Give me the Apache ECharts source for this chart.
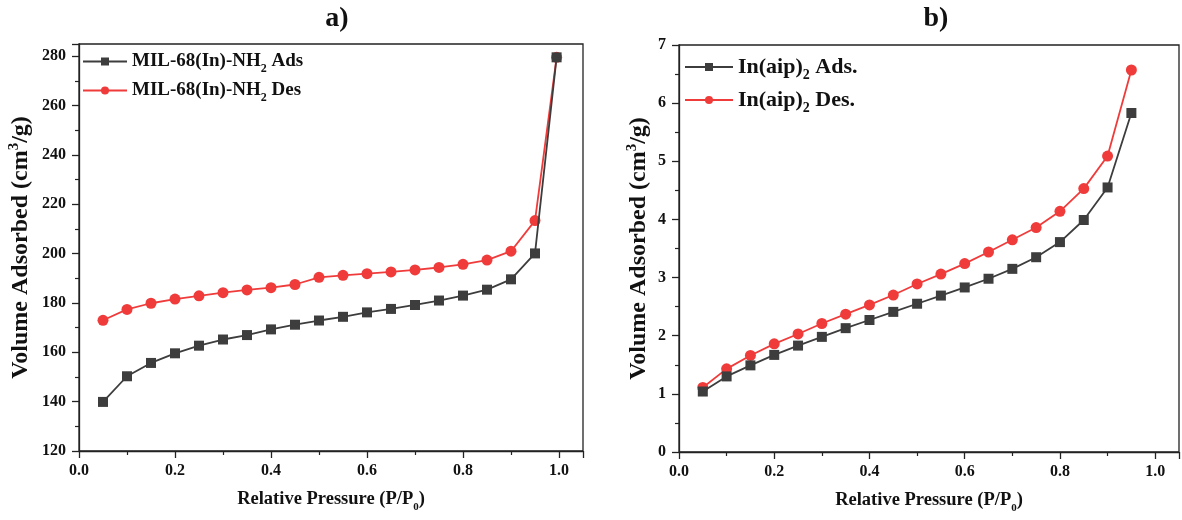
<!DOCTYPE html>
<html>
<head>
<meta charset="utf-8">
<script src="https://cdn.jsdelivr.net/npm/echarts@6/dist/echarts.min.js"></script>
<style>
  html, body { margin: 0; padding: 0; background: #fff; }
  #chart { width: 1182px; height: 520px; }
</style>
</head>
<body>
<div id="chart"></div>
<script>
// 图 a) MIL-68(In)-NH2
const pressureA = [0.05, 0.10, 0.15, 0.20, 0.25, 0.30, 0.35, 0.40, 0.45, 0.50,
                   0.55, 0.60, 0.65, 0.70, 0.75, 0.80, 0.85, 0.90, 0.95, 0.995];
const adsA = [139.9, 150.3, 155.7, 159.6, 162.7, 165.2, 167.0, 169.3, 171.2, 172.9,
              174.4, 176.2, 177.6, 179.2, 181.0, 183.0, 185.4, 189.6, 200.1, 279.6];
const desA = [173.0, 177.4, 179.9, 181.6, 182.9, 184.2, 185.3, 186.2, 187.5, 190.4,
              191.2, 191.9, 192.6, 193.4, 194.4, 195.7, 197.4, 201.0, 213.4, 279.6];

// 图 b) In(aip)2
const pressureB = [0.05, 0.10, 0.15, 0.20, 0.25, 0.30, 0.35, 0.40, 0.45, 0.50,
                   0.55, 0.60, 0.65, 0.70, 0.75, 0.80, 0.85, 0.90, 0.95];
const adsB = [1.04, 1.30, 1.49, 1.67, 1.83, 1.98, 2.13, 2.27, 2.41, 2.55,
              2.69, 2.83, 2.98, 3.15, 3.35, 3.61, 3.99, 4.55, 5.83];
const desB = [1.11, 1.43, 1.66, 1.86, 2.03, 2.21, 2.37, 2.53, 2.70, 2.89,
              3.06, 3.24, 3.44, 3.65, 3.86, 4.14, 4.53, 5.09, 6.57];

const xTicks = [0.0, 0.2, 0.4, 0.6, 0.8, 1.0];

const FONT = '"Liberation Serif", "DejaVu Serif", serif';
const GRAY = '#3d3d3d';
const RED = '#f03b3b';

const zip = (xs, ys) => xs.map((x, i) => [x, ys[i]]);

// 上下标用的 rich 样式
function richStyle(size) {
    const small = Math.round(size * 0.62);
    return {
        n: { fontFamily: FONT, fontWeight: 'bold', fontSize: size, color: '#111', lineHeight: size + 4, verticalAlign: 'middle' },
        sub: { fontFamily: FONT, fontWeight: 'bold', fontSize: small, color: '#111', lineHeight: small, verticalAlign: 'bottom', padding: [0, 0, -2, 0] },
        sup: { fontFamily: FONT, fontWeight: 'bold', fontSize: small, color: '#111', lineHeight: small, verticalAlign: 'top' }
    };
}

function xAxis(grid) {
    return {
        type: 'value', gridIndex: grid, min: 0, max: 1.05, interval: 0.2,
        name: '{n|Relative Pressure (P/P}{sub|0}{n|)}',
        nameLocation: 'middle', nameGap: 37,
        nameTextStyle: { rich: richStyle(18.5) },
        axisLine: { lineStyle: { color: '#222', width: 1.3 } },
        axisTick: { inside: false, length: 7, lineStyle: { color: '#222', width: 1.3 } },
        minorTick: { show: true, splitNumber: 2, length: 4, lineStyle: { color: '#222', width: 1.2 } },
        splitLine: { show: false },
        axisLabel: {
            margin: 12, fontFamily: FONT, fontWeight: 'bold', fontSize: 16, color: '#111',
            formatter: v => xTicks.some(t => Math.abs(t - v) < 1e-6) ? v.toFixed(1) : ''
        }
    };
}

function yAxis(grid, min, max, interval, gap) {
    return {
        type: 'value', gridIndex: grid, min: min, max: max, interval: interval,
        name: '{n|Volume Adsorbed (cm}{sup|3}{n|/g)}',
        nameLocation: 'middle', nameGap: gap,
        nameTextStyle: { rich: richStyle(24) },
        axisLine: { show: true, lineStyle: { color: '#222', width: 1.3 } },
        axisTick: { show: true, inside: false, length: 7, lineStyle: { color: '#222', width: 1.3 } },
        minorTick: { show: true, splitNumber: 2, length: 4, lineStyle: { color: '#222', width: 1.2 } },
        splitLine: { show: false },
        axisLabel: {
            margin: 13, fontFamily: FONT, fontWeight: 'bold', fontSize: 16, color: '#111',
            formatter: v => (v > max - 1e-6 && max % interval !== 0) ? '' : String(v)
        }
    };
}

function series(name, data, xi, isAds) {
    return {
        name: name, type: 'line', xAxisIndex: xi, yAxisIndex: xi, data: data,
        symbol: isAds ? 'rect' : 'circle', symbolSize: isAds ? 10 : 11,
        lineStyle: { color: isAds ? GRAY : RED, width: 1.8 },
        itemStyle: { color: isAds ? GRAY : RED },
        z: isAds ? 3 : 2, animation: false
    };
}

const chart = echarts.init(document.getElementById('chart'));
chart.setOption({
    backgroundColor: '#fff',
    animation: false,
    title: [
        { text: 'a)', left: 332, top: 0, textAlign: 'center', textStyle: { fontFamily: FONT, fontWeight: 'bold', fontSize: 28, color: '#111' } },
        { text: 'b)', left: 931, top: 0, textAlign: 'center', textStyle: { fontFamily: FONT, fontWeight: 'bold', fontSize: 28, color: '#111' } }
    ],
    legend: [
        {
            data: ['MIL-68(In)-NH2 Ads', 'MIL-68(In)-NH2 Des'], orient: 'vertical',
            left: 77, top: 47, itemWidth: 44, itemHeight: 10, itemGap: 6,
            formatter: n => '{n|' + n.replace('NH2', 'NH}{sub|2}{n|') + '}',
            textStyle: { rich: richStyle(19) }
        },
        {
            data: ['In(aip)2 Ads.', 'In(aip)2 Des.'], orient: 'vertical',
            left: 679, top: 51, itemWidth: 48, itemHeight: 10, itemGap: 7,
            formatter: n => '{n|' + n.replace(')2', ')}{sub|2}{n|') + '}',
            textStyle: { rich: richStyle(22) }
        }
    ],
    grid: [
        { left: 79, top: 44, right: 599, bottom: 69, show: true, borderColor: '#222', borderWidth: 1.3 },
        { left: 679, top: 45, right: 0, bottom: 68, show: true, borderColor: '#222', borderWidth: 1.3 }
    ],
    xAxis: [xAxis(0), xAxis(1)],
    yAxis: [yAxis(0, 120, 285, 20, 44), yAxis(1, 0, 7, 1, 26)],
    series: [
        series('MIL-68(In)-NH2 Ads', zip(pressureA, adsA), 0, true),
        series('MIL-68(In)-NH2 Des', zip(pressureA, desA), 0, false),
        series('In(aip)2 Ads.', zip(pressureB, adsB), 1, true),
        series('In(aip)2 Des.', zip(pressureB, desB), 1, false)
    ]
});
</script>
</body>
</html>
